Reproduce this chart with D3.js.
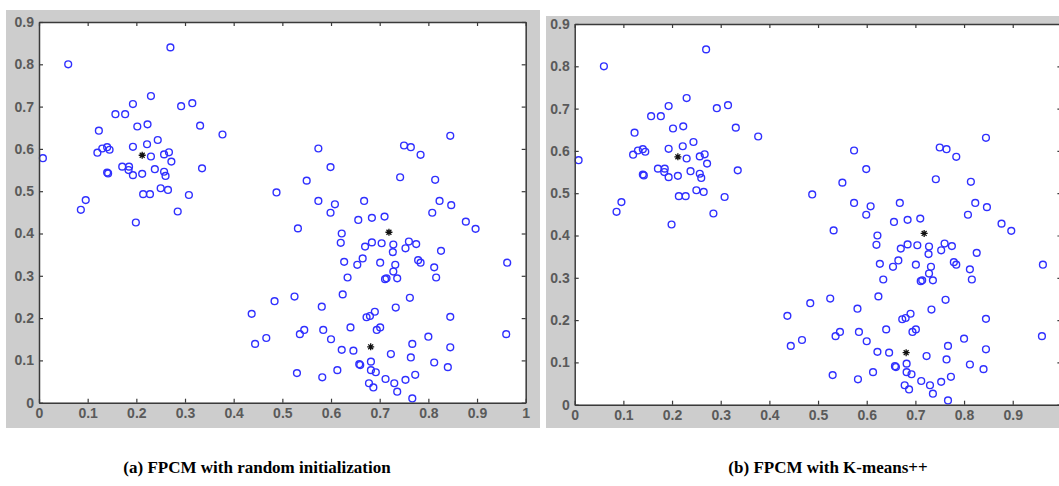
<!DOCTYPE html>
<html>
<head>
<meta charset="utf-8">
<script src="https://cdn.jsdelivr.net/npm/d3@7"></script>
<style>
  body { margin: 0; background: #fff; }
  .tick text { font-family: "Liberation Sans", Arial, sans-serif; font-size: 14px; font-weight: bold; fill: #5a5a5a; }
  .caption { font-family: "Liberation Serif", "Times New Roman", serif; font-size: 17px; font-weight: bold; fill: #000; }
</style>
</head>
<body>
<div id="chart"></div>
<script>
// data points (same data set in both panels)
const ptsX = [
  0.27, 0.06, 0.23, 0.193, 0.292, 0.315, 0.157, 0.177, 0.202, 0.223, 0.331, 0.123, 0.377, 0.244, 0.222,
  0.193, 0.140, 0.130, 0.120, 0.145, 0.008, 0.230, 0.257, 0.267, 0.272, 0.171, 0.185, 0.184, 0.193, 0.212,
  0.238, 0.257, 0.260, 0.140, 0.142, 0.335, 0.250, 0.265, 0.214, 0.228, 0.308, 0.096, 0.086, 0.285, 0.199,
  0.574, 0.599, 0.550, 0.488, 0.574, 0.608, 0.599, 0.668, 0.656, 0.684, 0.710, 0.532, 0.622, 0.620, 0.670,
  0.684, 0.704, 0.627, 0.665, 0.654, 0.701, 0.711, 0.714, 0.634, 0.624, 0.525, 0.484, 0.581, 0.437, 0.673,
  0.680, 0.690, 0.444, 0.467, 0.536, 0.545, 0.584, 0.600, 0.640, 0.694, 0.701, 0.622, 0.646, 0.723, 0.530,
  0.582, 0.613, 0.658, 0.660, 0.682, 0.682, 0.692, 0.678, 0.687, 0.712,
  0.845, 0.750, 0.764, 0.784, 0.742, 0.814, 0.823, 0.847, 0.808, 0.877, 0.897, 0.728, 0.727, 0.753, 0.760,
  0.775, 0.826, 0.779, 0.784, 0.732, 0.728, 0.736, 0.812, 0.816, 0.962, 0.762, 0.733, 0.845, 0.800, 0.960,
  0.767, 0.845, 0.764, 0.812, 0.840, 0.773, 0.753, 0.730, 0.736, 0.767
];
const ptsY = [
  0.84, 0.80, 0.725, 0.706, 0.701, 0.708, 0.682, 0.682, 0.653, 0.658, 0.655, 0.643, 0.634, 0.621, 0.611,
  0.605, 0.604, 0.601, 0.591, 0.598, 0.578, 0.582, 0.587, 0.592, 0.570, 0.558, 0.558, 0.550, 0.538, 0.541,
  0.552, 0.546, 0.536, 0.544, 0.542, 0.554, 0.507, 0.503, 0.493, 0.493, 0.491, 0.479, 0.456, 0.452, 0.426,
  0.601, 0.557, 0.525, 0.497, 0.477, 0.469, 0.449, 0.477, 0.432, 0.437, 0.440, 0.412, 0.400, 0.378, 0.369,
  0.379, 0.377, 0.333, 0.341, 0.326, 0.331, 0.292, 0.294, 0.296, 0.256, 0.251, 0.240, 0.227, 0.210, 0.202,
  0.205, 0.215, 0.139, 0.153, 0.162, 0.172, 0.172, 0.150, 0.178, 0.172, 0.178, 0.125, 0.123, 0.115, 0.070,
  0.060, 0.077, 0.091, 0.089, 0.097, 0.077, 0.072, 0.046, 0.036, 0.056,
  0.631, 0.608, 0.604, 0.586, 0.533, 0.527, 0.477, 0.467, 0.449, 0.428, 0.411, 0.374, 0.356, 0.365, 0.381,
  0.375, 0.359, 0.337, 0.331, 0.326, 0.310, 0.294, 0.320, 0.296, 0.331, 0.248, 0.225, 0.203, 0.156, 0.162,
  0.139, 0.131, 0.107, 0.095, 0.084, 0.066, 0.054, 0.046, 0.026, 0.010
];

// cluster centres
const centersA = [[0.212, 0.585], [0.719, 0.403], [0.6815, 0.132]];
const centersB = [[0.212, 0.586], [0.718, 0.405], [0.681, 0.123]];

const xTicks = [0, 0.1, 0.2, 0.3, 0.4, 0.5, 0.6, 0.7, 0.8, 0.9, 1];
const xTickLabels = ["0", "0.1", "0.2", "0.3", "0.4", "0.5", "0.6", "0.7", "0.8", "0.9", "1"];
const yTicks = [0, 0.1, 0.2, 0.3, 0.4, 0.5, 0.6, 0.7, 0.8, 0.9];
const yTickLabels = ["0", "0.1", "0.2", "0.3", "0.4", "0.5", "0.6", "0.7", "0.8", "0.9"];

const captions = ["(a) FPCM with random initialization", "(b) FPCM with K-means++"];

var W = 1059, H = 486;

var svg = d3.select("#chart")
  .append("svg")
  .attr("width", W)
  .attr("height", H);

function drawPanel(panel, centers) {
  // gray figure background
  svg.append("rect")
    .attr("x", panel.bg[0]).attr("y", panel.bg[1])
    .attr("width", panel.bg[2]).attr("height", panel.bg[3])
    .attr("fill", "#cdcdcd");

  var x = d3.scaleLinear().domain([0, 1]).range([panel.left, panel.right]);
  var y = d3.scaleLinear().domain([0, 0.9]).range([panel.bottom, panel.top]);

  // white axes area
  svg.append("rect")
    .attr("x", x(0)).attr("y", y(0.9))
    .attr("width", x(1) - x(0)).attr("height", y(0) - y(0.9))
    .attr("fill", "#fff");

  var g = svg.append("g");

  // points
  g.selectAll("circle")
    .data(ptsX.map(function (d, i) { return [d, ptsY[i]]; }))
    .enter()
    .append("circle")
    .attr("cx", function (d) { return x(d[0]); })
    .attr("cy", function (d) { return y(d[1]); })
    .attr("r", 3.4)
    .attr("fill", "none")
    .attr("stroke", "#3030ff")
    .attr("stroke-width", 1.4);

  // centres as asterisks
  var s = 3.5, t = s * 0.7;
  g.selectAll("path.star")
    .data(centers)
    .enter()
    .append("path")
    .attr("class", "star")
    .attr("transform", function (d) { return "translate(" + x(d[0]) + "," + y(d[1]) + ")"; })
    .attr("d", "M" + (-s) + ",0L" + s + ",0M0," + (-s) + "L0," + s +
               "M" + (-t) + "," + (-t) + "L" + t + "," + t + "M" + (-t) + "," + t + "L" + t + "," + (-t))
    .attr("stroke", "#111")
    .attr("stroke-width", 1.3);

  // axes with inward ticks
  var fmtX = function (d, i) { return xTickLabels[i]; };
  var fmtY = function (d, i) { return yTickLabels[i]; };

  var axB = svg.append("g")
    .attr("transform", "translate(0," + y(0) + ")")
    .call(d3.axisBottom(x).tickValues(xTicks).tickFormat(fmtX).tickSize(-4).tickSizeOuter(0).tickPadding(5));
  var axL = svg.append("g")
    .attr("transform", "translate(" + x(0) + ",0)")
    .call(d3.axisLeft(y).tickValues(yTicks).tickFormat(fmtY).tickSize(-4).tickSizeOuter(0).tickPadding(5));
  var axT = svg.append("g")
    .attr("transform", "translate(0," + y(0.9) + ")")
    .call(d3.axisTop(x).tickValues(xTicks).tickFormat("").tickSize(-4).tickSizeOuter(0));
  var axR = svg.append("g")
    .attr("transform", "translate(" + x(1) + ",0)")
    .call(d3.axisRight(y).tickValues(yTicks).tickFormat("").tickSize(-4).tickSizeOuter(0));

  // labels that fall off the picture edge are not shown in the reference
  axB.selectAll(".tick text")
    .filter(function (d) { return x(d) > W - 4; })
    .remove();

  [axB, axL, axT, axR].forEach(function (a) {
    a.select(".domain").attr("stroke", "#3a3a3a").attr("stroke-width", 1.5);
    a.selectAll(".tick line").attr("stroke", "#3a3a3a").attr("stroke-width", 1.2);
  });

  svg.append("text")
    .attr("class", "caption")
    .attr("x", panel.capX)
    .attr("y", 473)
    .attr("text-anchor", "middle")
    .text(panel.caption);
}

drawPanel({ bg: [6, 10, 534, 418], left: 39, right: 525.7, top: 22, bottom: 402.7,
            capX: 257, caption: captions[0] }, centersA);
drawPanel({ bg: [546, 16, 513, 412], left: 574.7, right: 1061.4, top: 24, bottom: 404.7,
            capX: 828, caption: captions[1] }, centersB);
</script>
</body>
</html>
